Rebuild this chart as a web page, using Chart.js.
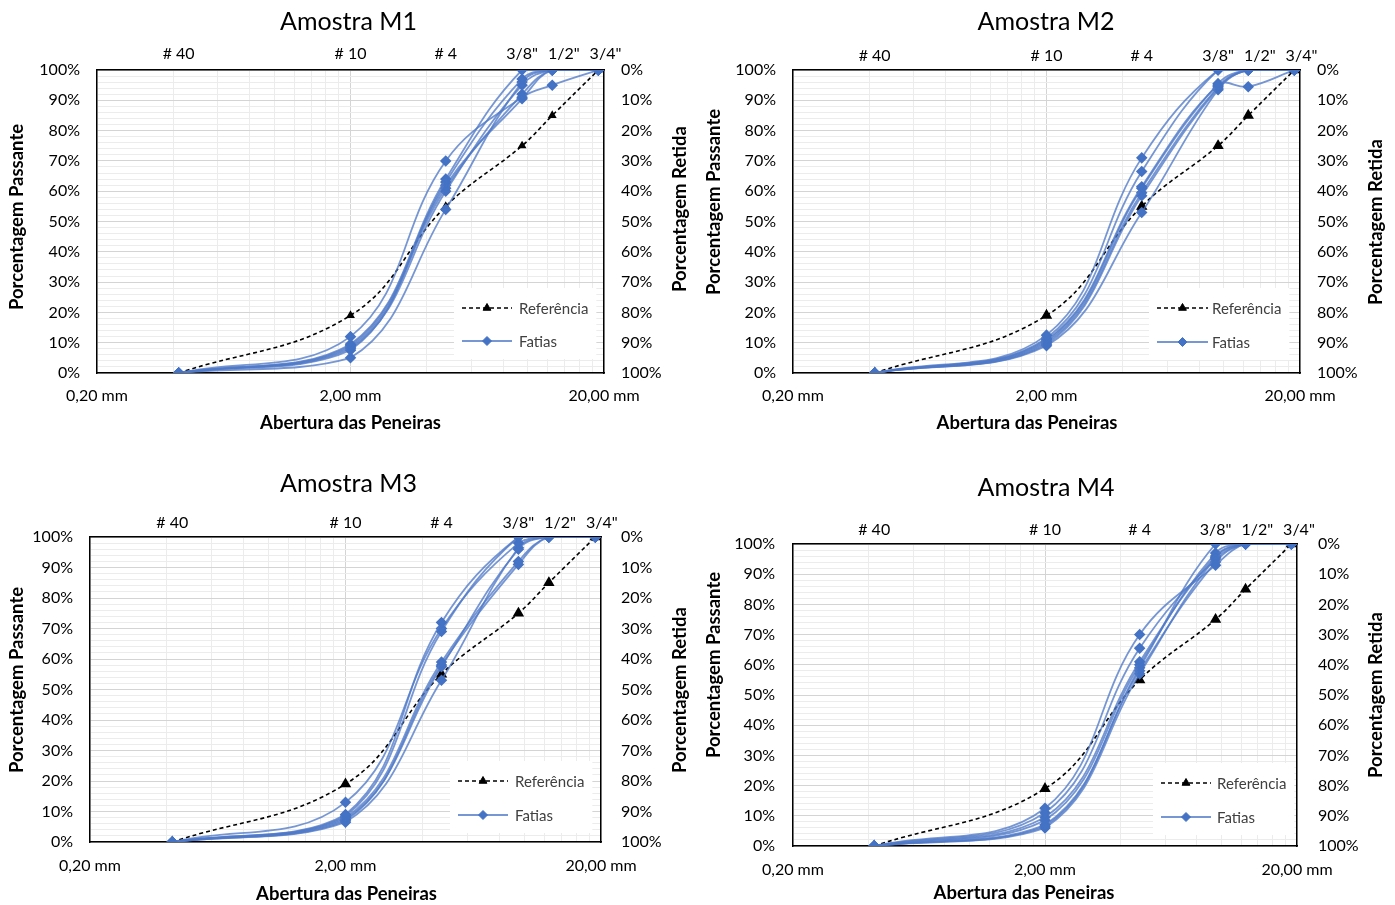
<!DOCTYPE html>
<html><head><meta charset="utf-8">
<script src="https://cdn.jsdelivr.net/npm/chart.js@4/dist/chart.umd.min.js"></script>
<style>
html,body{margin:0;padding:0;background:#fff;}
body{width:1395px;height:905px;position:relative;overflow:hidden;}
.box{position:absolute;}
</style></head><body>
<div class="box" style="left:0;top:0;width:697px;height:452px"><canvas id="c1"></canvas></div>
<div class="box" style="left:697px;top:0;width:698px;height:452px"><canvas id="c2"></canvas></div>
<div class="box" style="left:0;top:452px;width:697px;height:453px"><canvas id="c3"></canvas></div>
<div class="box" style="left:697px;top:452px;width:698px;height:453px"><canvas id="c4"></canvas></div>
<script>
// ---- data ----
const sieveSizes = [0.42, 2.0, 4.75, 9.5, 12.5, 19.0];
const sieveLabels = ['# 40', '# 10', '# 4', '3/8"', '1/2"', '3/4"'];
const xGridTicks = [0.2, 0.4, 0.6, 0.8, 1.0, 1.2, 1.4, 1.6, 1.8, 2, 4, 6, 8, 10, 12, 14, 16, 18, 20];
const xLabelTicks = [0.2, 2, 20];
const referencia = [0, 19, 55, 75, 85, 100];

const m1Fatia1 = [0, 12, 70, 91, 95, 100];
const m1Fatia2 = [0, 9.5, 64, 100, 100, 100];
const m1Fatia3 = [0, 9, 63, 97, 100, 100];
const m1Fatia4 = [0, 8.5, 61, 92, 100, 100];
const m1Fatia5 = [0, 8, 60, 95, 100, 100];
const m1Fatia6 = [0, 7.5, 62, 90.5, 100, 100];
const m1Fatia7 = [0, 5, 54, 96, 100, 100];

const m2Fatia1 = [0, 12.5, 71, 100, 100, 100];
const m2Fatia2 = [0, 11.5, 66.5, 100, 100, 100];
const m2Fatia3 = [0, 11, 61.5, 95, 94.5, 100];
const m2Fatia4 = [0, 10.5, 61, 95.5, 100, 100];
const m2Fatia5 = [0, 10, 59.5, 94.5, 100, 100];
const m2Fatia6 = [0, 9.5, 58.5, 94, 100, 100];
const m2Fatia7 = [0, 9, 53, 93.5, 100, 100];

const m3Fatia1 = [0, 9, 72, 100, 100, 100];
const m3Fatia2 = [0, 13, 70, 98, 100, 100];
const m3Fatia3 = [0, 8.5, 69, 100, 100, 100];
const m3Fatia4 = [0, 8, 59, 92, 100, 100];
const m3Fatia5 = [0, 7, 58, 91, 100, 100];
const m3Fatia6 = [0, 7.5, 57.5, 96, 100, 100];
const m3Fatia7 = [0, 6.5, 53, 96.5, 100, 100];

const m4Fatia1 = [0, 12.5, 70, 93, 100, 100];
const m4Fatia2 = [0, 11, 65.5, 95, 100, 100];
const m4Fatia3 = [0, 9.5, 61, 96, 100, 100];
const m4Fatia4 = [0, 8.5, 60, 97, 100, 100];
const m4Fatia5 = [0, 7, 59, 100, 100, 100];
const m4Fatia6 = [0, 6.5, 58, 94, 100, 100];
const m4Fatia7 = [0, 6, 57, 95.5, 100, 100];

const titles = ['Amostra M1', 'Amostra M2', 'Amostra M3', 'Amostra M4'];
const xAxisTitle = 'Abertura das Peneiras';
const yLeftTitle = 'Porcentagem Passante';
const yRightTitle = 'Porcentagem Retida';
const seriesNames = ['Referência', 'Fatias'];

// ---- styles ----
const FONT = 'Lato, "Open Sans", sans-serif';
const MAJOR = 'rgb(212,212,212)';
const MINOR = 'rgb(236,236,236)';
const BLUE_LINE = 'rgba(80,122,200,0.78)';
const BLUE_PT = '#4472C4';

const layouts = [
  {left:97, rightW:93, plotTop:70, bottomH:79, titleY:22, topGap:16, bottomGap:23, leftPad:17, rightPad:17, triR:3.5,
   xTitle:[350.5,423], leftTitle:[17,217], rightTitle:[680,209], lg:{l0:-142,l1:-92,tx:-85,r1:-65,r2:-32}},
  {left:96, rightW:95, plotTop:70, bottomH:79, titleY:22, topGap:14, bottomGap:23, leftPad:17, rightPad:17, triR:5,
   xTitle:[330,423], leftTitle:[17,202], rightTitle:[679,222], lg:{l0:-143,l1:-92,tx:-88,r1:-65,r2:-31}},
  {left:90, rightW:96, plotTop:85, bottomH:63, titleY:32, topGap:14, bottomGap:24, leftPad:17, rightPad:20, triR:5,
   xTitle:[346.5,442], leftTitle:[17,228], rightTitle:[680,238], lg:{l0:-143,l1:-93,tx:-86,r1:-61,r2:-27}},
  {left:96, rightW:98, plotTop:92, bottomH:59, titleY:36, topGap:14, bottomGap:24, leftPad:18, rightPad:21, triR:5,
   xTitle:[327,441], leftTitle:[17,213], rightTitle:[679,243], lg:{l0:-136,l1:-86,tx:-80,r1:-63,r2:-29}}
];

const fatiasSets = [
  [m1Fatia1, m1Fatia2, m1Fatia3, m1Fatia4, m1Fatia5, m1Fatia6, m1Fatia7],
  [m2Fatia1, m2Fatia2, m2Fatia3, m2Fatia4, m2Fatia5, m2Fatia6, m2Fatia7],
  [m3Fatia1, m3Fatia2, m3Fatia3, m3Fatia4, m3Fatia5, m3Fatia6, m3Fatia7],
  [m4Fatia1, m4Fatia2, m4Fatia3, m4Fatia4, m4Fatia5, m4Fatia6, m4Fatia7]
];

function toPoints(vals) { return sieveSizes.map((x, i) => ({x: x, y: vals[i]})); }
function fmtMM(v) { return v.toFixed(2).replace('.', ',') + ' mm'; }

function drawMarker(ctx, style, r, x, y, color) {
  if (Chart.helpers && Chart.helpers.drawPoint) {
    ctx.save();
    ctx.fillStyle = color; ctx.strokeStyle = color; ctx.lineWidth = 1;
    Chart.helpers.drawPoint(ctx, {pointStyle: style, radius: r, rotation: 0, borderWidth: 1}, x, y);
    ctx.restore();
  }
}

function makeChart(idx) {
  const L = layouts[idx];
  const titleSize = 25;
  const titleH = L.titleY + titleSize * 0.6;
  const datasets = [{
    label: seriesNames[0],
    data: toPoints(referencia),
    borderColor: '#000', borderWidth: 1.6, borderDash: [4, 3],
    pointStyle: 'triangle', pointRadius: L.triR, pointBackgroundColor: '#000', pointBorderColor: '#000',
    tension: 0.4, order: 1, inLegend: true, legendStyle: 'triangle'
  }];
  fatiasSets[idx].forEach((f, k) => {
    datasets.push({
      label: seriesNames[1],
      data: toPoints(f),
      borderColor: BLUE_LINE, borderWidth: 1.8,
      pointStyle: 'rectRot', pointRadius: 4.5, pointBackgroundColor: BLUE_PT, pointBorderColor: BLUE_PT,
      tension: 0.4, order: 0, inLegend: k === 0, legendStyle: 'rectRot'
    });
  });

  const deco = {
    id: 'deco' + idx,
    beforeDraw(chart) {
      // keep the sieve labels on the top axis from touching each other
      const s = chart.scales.x2;
      const items = s.getLabelItems(chart.chartArea);
      const ctx = chart.ctx;
      ctx.save();
      ctx.font = '16px ' + FONT;
      const gap = 10;
      for (let i = 1; i < items.length; i++) {
        const prev = items[i - 1], cur = items[i];
        const wp = ctx.measureText(prev.label).width, wc = ctx.measureText(cur.label).width;
        const minX = prev.options.translation[0] + wp / 2 + gap + wc / 2;
        if (cur.options.translation[0] < minX) cur.options.translation[0] = minX;
      }
      ctx.restore();
    },
    afterDatasetsDraw(chart) {
      const ctx = chart.ctx;
      const ca = chart.chartArea;
      const lg = L.lg;
      ctx.save();
      ctx.font = '15px ' + FONT;
      const items = chart.data.datasets.filter(d => d.inLegend);
      let maxW = 0;
      items.forEach(d => { maxW = Math.max(maxW, ctx.measureText(d.label).width); });
      const bx0 = ca.right + lg.l0 - 8;
      const bx1 = ca.right + lg.tx + maxW + 8;
      const by0 = ca.bottom + lg.r1 - 20;
      const by1 = ca.bottom + lg.r2 + 18;
      ctx.fillStyle = '#fff';
      ctx.fillRect(bx0, by0, bx1 - bx0, by1 - by0);
      const rows = [lg.r1, lg.r2];
      items.forEach((d, i) => {
        const y = ca.bottom + rows[i];
        const x0 = ca.right + lg.l0, x1 = ca.right + lg.l1;
        ctx.save();
        ctx.strokeStyle = d.borderColor; ctx.lineWidth = d.borderWidth;
        ctx.setLineDash(d.borderDash || []);
        ctx.beginPath(); ctx.moveTo(x0, y); ctx.lineTo(x1, y); ctx.stroke();
        ctx.setLineDash([]);
        ctx.restore();
        drawMarker(ctx, d.legendStyle, 4.5, (x0 + x1) / 2, y, d.pointBackgroundColor);
        ctx.fillStyle = '#404040';
        ctx.textBaseline = 'middle'; ctx.textAlign = 'left';
        ctx.fillText(d.label, ca.right + lg.tx, y + 1);
      });
      ctx.restore();
    },
    afterDraw(chart) {
      const ctx = chart.ctx;
      ctx.save();
      ctx.fillStyle = '#000';
      ctx.font = 'bold 18.5px ' + FONT;
      ctx.textAlign = 'center'; ctx.textBaseline = 'middle';
      ctx.fillText(xAxisTitle, L.xTitle[0], L.xTitle[1]);
      [[yLeftTitle, L.leftTitle], [yRightTitle, L.rightTitle]].forEach(([t, p]) => {
        ctx.save();
        ctx.translate(p[0], p[1]);
        ctx.rotate(-Math.PI / 2);
        ctx.fillText(t, 0, 0);
        ctx.restore();
      });
      ctx.restore();
    }
  };

  const tickFont = {family: FONT, size: 16};
  return new Chart(document.getElementById('c' + (idx + 1)), {
    type: 'line',
    data: {datasets: datasets},
    options: {
      responsive: true, maintainAspectRatio: false, animation: false, devicePixelRatio: 1,
      events: [],
      layout: {padding: 0},
      plugins: {
        legend: {display: false},
        tooltip: {enabled: false},
        title: {display: true, text: titles[idx], color: '#000',
                font: {family: FONT, size: titleSize, weight: 'normal'},
                padding: {top: L.titleY - titleSize * 0.6, bottom: 0}}
      },
      scales: {
        x: {
          type: 'logarithmic', position: 'bottom', min: 0.2, max: 20,
          afterBuildTicks: s => { s.ticks = xGridTicks.map(v => ({value: v})); },
          afterFit: s => { s.height = L.bottomH; },
          ticks: {autoSkip: false, maxRotation: 0, minRotation: 0, padding: L.bottomGap - 9.6, color: '#000', font: tickFont,
                  callback: v => xLabelTicks.includes(v) ? fmtMM(v) : ''},
          grid: {drawTicks: false, lineWidth: 1, color: c => (c.tick && c.tick.value === 2) ? MAJOR : MINOR},
          border: {color: '#000', width: 1.5}
        },
        x2: {
          type: 'logarithmic', position: 'top', min: 0.2, max: 20,
          afterBuildTicks: s => { s.ticks = sieveSizes.map(v => ({value: v})); },
          afterFit: s => { s.height = L.plotTop - titleH; },
          ticks: {autoSkip: false, maxRotation: 0, minRotation: 0, padding: L.topGap - 9.6, color: '#000', font: tickFont,
                  callback: (v, i) => sieveLabels[i]},
          grid: {display: false, drawTicks: false},
          border: {color: '#000', width: 1.5}
        },
        y: {
          position: 'left', min: 0, max: 100,
          afterFit: s => { s.width = L.left; },
          ticks: {stepSize: 2, autoSkip: false, padding: L.leftPad, color: '#000', font: tickFont,
                  callback: v => (Math.round(v) % 10 === 0) ? Math.round(v) + '%' : ''},
          grid: {drawTicks: false, lineWidth: 1, color: c => (c.tick && Math.round(c.tick.value) % 10 === 0) ? MAJOR : MINOR},
          border: {color: '#000', width: 1.5}
        },
        y2: {
          position: 'right', min: 0, max: 100, reverse: true,
          afterFit: s => { s.width = L.rightW; },
          ticks: {stepSize: 10, autoSkip: false, padding: L.rightPad, color: '#000', font: tickFont,
                  callback: v => Math.round(v) + '%'},
          grid: {display: false, drawTicks: false},
          border: {color: '#000', width: 1.5}
        }
      }
    },
    plugins: [deco]
  });
}

[0, 1, 2, 3].forEach(makeChart);
</script>
</body></html>
